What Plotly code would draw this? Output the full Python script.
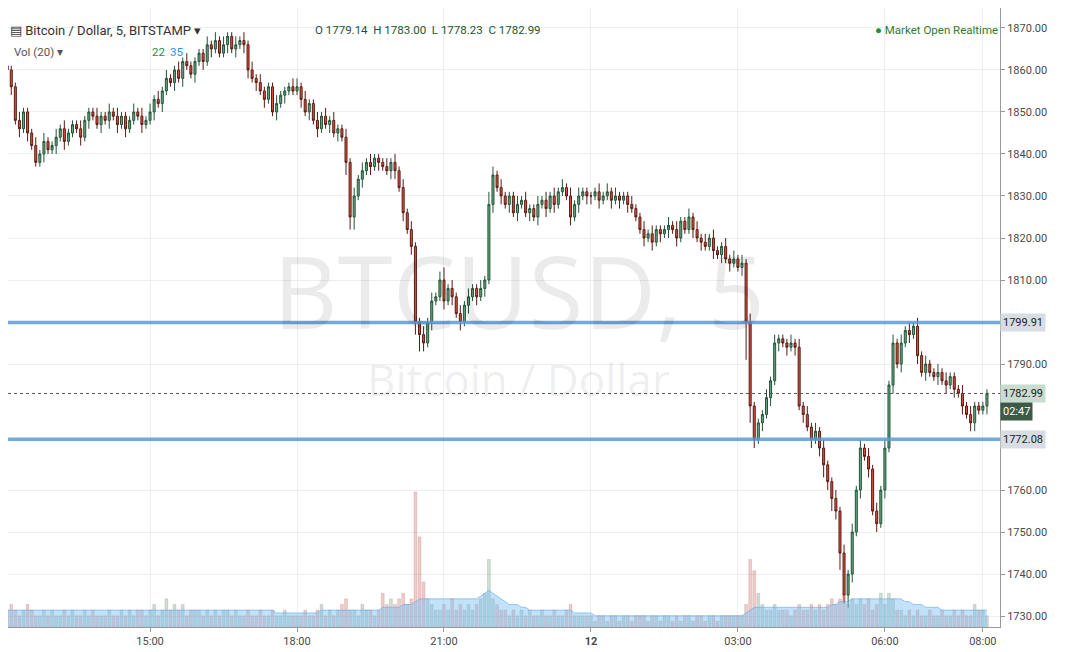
import plotly.graph_objects as go
import pandas as pd

# closes, one row per hour (first row starts 12:05)
closes = [
    1860,1856,1848,1846,1850,1845,1842,1838,1840,1843,1841,
    1842,1844,1846,1843,1845,1847,1846,1844,1848,1850,1849,1847,
    1849,1848,1850,1849,1847,1849,1846,1848,1850,1849,1847,1848,
    1850,1853,1852,1855,1858,1857,1860,1858,1862,1861,1859,1862,
    1864,1862,1866,1865,1867,1864,1866,1868,1865,1866,1867,1866,
    1860,1858,1857,1855,1853,1856,1850,1852,1854,1855,1856,1855,
    1856,1853,1850,1852,1848,1846,1849,1847,1848,1845,1846,1844,
    1838,1825,1830,1834,1836,1838,1837,1839,1838,1837,1836,1838,
    1836,1832,1826,1822,1818,1800,1797,1795,1800,1805,1806,1810,
    1805,1808,1806,1802,1800,1804,1806,1808,1806,1808,1810,1828,
    1835,1832,1830,1828,1830,1826,1828,1829,1826,1827,1825,1828,
    1829,1827,1830,1828,1831,1832,1830,1825,1828,1830,1831,1830,
    1830,1831,1829,1830,1831,1829,1830,1829,1830,1828,1827,1825,
    1822,1820,1821,1819,1822,1821,1822,1823,1822,1820,1824,1822,
    1825,1822,1820,1819,1818,1820,1817,1816,1818,1815,1814,1815,
    1813,1814,1800,1780,1772,1776,1778,1782,1786,1795,1796,1795,
    1794,1795,1794,1780,1778,1775,1772,1774,1770,1766,1762,1758,
    1755,1745,1735,1740,1750,1760,1770,1768,1765,1755,1752,1760,
    1770,1785,1795,1790,1795,1798,1797,1799,1792,1788,1790,1788,
    1787,1788,1786,1785,1787,1784,1783,1780,1778,1776,1780,1779,
    1780,1783,
]
first_open = 1861
wick_up = ("21121112121"
           "121211121112" "112121112121" "212121121211" "112121211212"
           "121211121112" "212112121211" "212121211121" "212121121212"
           "312121211213" "212111212112" "121212121211" "112121211121"
           "121211121211" "212121211212" "121211121211" "121212121211"
           "212121212121" "212121212121" "121211121211" "11")
wick_dn = ("32121211121"
           "121211121211" "212121211121" "121211212112" "121211121212"
           "212121121211" "121212112121" "333121212112" "212123421211"
           "212121212121" "212121211212" "121211121212" "212112121211"
           "121212121211" "121211212121" "129421212121" "212121212323"
           "242321212121" "212121212121" "121212121221" "12")
volumes = [
    3,4,3,2,3,4,3,2,2,3,2,
    3,2,2,3,2,3,2,2,3,2,3,2,
    2,2,3,2,2,3,2,3,2,3,3,2,
    3,4,2,3,5,3,4,3,4,2,3,3,
    3,2,3,2,3,2,3,3,2,3,2,2,
    3,2,2,3,2,2,3,2,2,3,2,2,
    2,2,3,2,2,3,4,2,3,2,3,4,
    5,3,3,2,4,3,3,2,3,6,4,5,
    4,5,6,4,5,24,16,8,5,4,3,3,
    4,3,5,3,4,3,4,3,4,5,6,12,
    5,4,3,3,2,3,2,3,2,3,2,2,
    3,2,2,3,2,2,3,4,2,2,2,2,
    2,1,2,2,1,2,2,1,2,2,1,2,
    2,2,1,2,2,1,2,2,1,2,1,2,
    2,1,2,2,1,2,2,1,2,2,2,2,
    2,2,4,12,10,6,4,3,3,4,3,3,
    3,2,3,4,3,3,4,3,4,3,4,5,
    4,5,6,4,5,4,5,4,5,3,4,6,
    4,6,5,3,3,2,3,2,3,2,2,3,
    2,2,3,2,2,3,2,3,2,2,4,3,
    3,2,
]
vol_ma = [
    3,3,3,3,3,3,3,3,3,3,3,
    3,3,3,3,3,3,3,3,3,3,3,3,
    3,3,3,3,3,3,3,3,3,3,3,3,
    3,3,3,3,3,3,3,3,3,3,3,3,
    3,3,3,3,3,3,3,3,3,3,3,3,
    3,3,3,3,3,3,3,2.5,2.5,2.5,2.5,2.5,
    2.5,2.5,2.5,2.5,2.5,2.5,3,3,3,3,3,3,
    3,3,3,3,3,3,3,3,3,3.5,3.5,3.5,
    3.5,3.5,4,4,4,4.5,5,5,5,5,5,5,
    5,5,5,5,5,5,5,5,5,5.5,6,6.5,
    6,5.5,5,4.5,4,4,4,3.5,3.5,3,3,3,
    3,3,3,3,3,3,3,3,2.5,2.5,2.5,2.5,
    2.5,2,2,2,2,2,2,2,2,2,2,2,
    2,2,2,2,2,2,2,2,2,2,2,2,
    2,2,2,2,2,2,2,2,2,2,2,2,
    2,2,2.5,3,3.5,3.5,3.5,3.5,3.5,3.5,3.5,3.5,
    3.5,3.5,3.5,3.5,3.5,3.5,3.5,3.5,3.5,3.5,3.5,4,
    4,4.5,4.5,4.5,5,5,5,5,5,5,5,5,
    5,5,5,5,5,4.5,4.5,4,4,4,3.5,3.5,
    3.5,3.5,3,3,3,3,3,3,3,3,3,3,
    3,3,
]
price_ticks = [1730, 1740, 1750, 1760, 1790, 1810, 1820, 1830, 1840, 1850, 1860, 1870]
level_hi = 1799.91
level_lo = 1772.08
last_price = 1782.99

times = pd.date_range("2017-08-11 12:05", periods=len(closes), freq="5min")
opens = [first_open] + closes[:-1]
highs = [max(o, c) + int(w) for o, c, w in zip(opens, closes, wick_up)]
lows = [min(o, c) - int(w) for o, c, w in zip(opens, closes, wick_dn)]
up_color = "#6ba583"
dn_color = "#d75442"
vcol = ["rgba(107,165,131,0.35)" if c >= o else "rgba(215,84,66,0.3)" for o, c in zip(opens, closes)]

fig = go.Figure()
fig.add_trace(go.Scatter(x=times, y=vol_ma, yaxis="y2", mode="lines", line=dict(color="rgba(100,170,230,0.6)", width=1),
                         fill="tozeroy", fillcolor="rgba(120,190,245,0.45)", hoverinfo="skip"))
fig.add_trace(go.Bar(x=times, y=volumes, yaxis="y2", marker=dict(color=vcol, line=dict(width=0.5, color="rgba(150,100,100,0.4)"))))
fig.add_trace(go.Candlestick(x=times, open=opens, high=highs, low=lows, close=closes,
                             increasing=dict(line=dict(color="#225437", width=1), fillcolor=up_color),
                             decreasing=dict(line=dict(color="#5b1a13", width=1), fillcolor=dn_color),
                             whiskerwidth=0))

for lv in [level_hi, level_lo]:
    fig.add_hline(y=lv, line=dict(color="#5b9bd5", width=3.5), opacity=0.85)
fig.add_hline(y=last_price, line=dict(color="#555", width=1, dash="dot"))

tickvals = pd.to_datetime(["2017-08-11 15:00", "2017-08-11 18:00", "2017-08-11 21:00",
                           "2017-08-12 00:00", "2017-08-12 03:00", "2017-08-12 06:00", "2017-08-12 08:00"])
ticktext = ["15:00", "18:00", "21:00", "<b>12</b>", "03:00", "06:00", "08:00"]

fig.update_layout(
    width=1067, height=652, margin=dict(l=0, r=75, t=0, b=33),
    plot_bgcolor="white", paper_bgcolor="white", showlegend=False,
    font=dict(family="Roboto, Open Sans, sans-serif", size=11, color="#4a4a4a"),
    xaxis=dict(range=["2017-08-11 12:06", "2017-08-12 08:21"], rangeslider=dict(visible=False),
               tickvals=tickvals, ticktext=ticktext, showgrid=True, gridcolor="#eceef0",
               showline=True, linecolor="#999", ticks="outside", ticklen=4, tickcolor="#999"),
    yaxis=dict(range=[1727.4, 1874.75], side="right", tickvals=price_ticks, tickformat=".2f", showgrid=True,
               gridcolor="#eceef0", showline=True, linecolor="#999", ticks="outside", ticklen=4, tickcolor="#999"),
    yaxis2=dict(range=[0, 110], overlaying="y", visible=False),
    bargap=0.3,
)

fig.add_annotation(text="BTCUSD, 5", x=0.515, y=0.545, xref="paper", yref="paper", showarrow=False,
                   font=dict(size=100, color="rgba(0,0,0,0.08)", family="Open Sans"))
fig.add_annotation(text="Bitcoin / Dollar", x=0.515, y=0.40, xref="paper", yref="paper", showarrow=False,
                   font=dict(size=44, color="rgba(0,0,0,0.08)", family="Open Sans"))

# header texts, positions in plot pixels
hdr = [("▤ Bitcoin / Dollar, 5, BITSTAMP ▾", 0, 13, 13, "#333"),
       ("O 1779.14  H 1783.00  L 1778.23  C 1782.99", 305, 13, 11.5, "#225437"),
       ("Vol (20) ▾", 4, 35, 11.5, "#555"),
       ("22", 142, 35, 11.5, "#2e8b3e"), ("35", 160, 35, 11.5, "#2196f3")]
for t, x, y, s, c in hdr:
    fig.add_annotation(text=t, x=x / 992, y=1 - y / 619, xref="paper", yref="paper", xanchor="left", showarrow=False,
                       font=dict(size=s, color=c))
fig.add_annotation(text="<span style='color:#2e8b3e'>●</span> Market Open Realtime", x=1.0, y=1 - 13 / 619,
                   xref="x domain", yref="paper", showarrow=False, xanchor="right",
                   font=dict(size=11.5, color="#2e7d32"))

for lv in [level_hi, level_lo]:
    fig.add_annotation(text=f"{lv:.2f}", x=1.0, y=lv, xref="paper", yref="y", xanchor="left", showarrow=False,
                       bgcolor="#d7dde3", font=dict(size=11, color="#222"), borderpad=2)
fig.add_annotation(text=f"{last_price:.2f}", x=1.0, y=last_price, xref="paper", yref="y",
                   xanchor="left", showarrow=False, bgcolor="#c8dccf", font=dict(size=11, color="#222"), borderpad=2)
fig.add_annotation(text="02:47", x=1.0, y=last_price - 4.2, xref="paper", yref="y",
                   xanchor="left", showarrow=False, bgcolor="#3d5a45", font=dict(size=11, color="white"), borderpad=2)

fig.write_html("out.html")
